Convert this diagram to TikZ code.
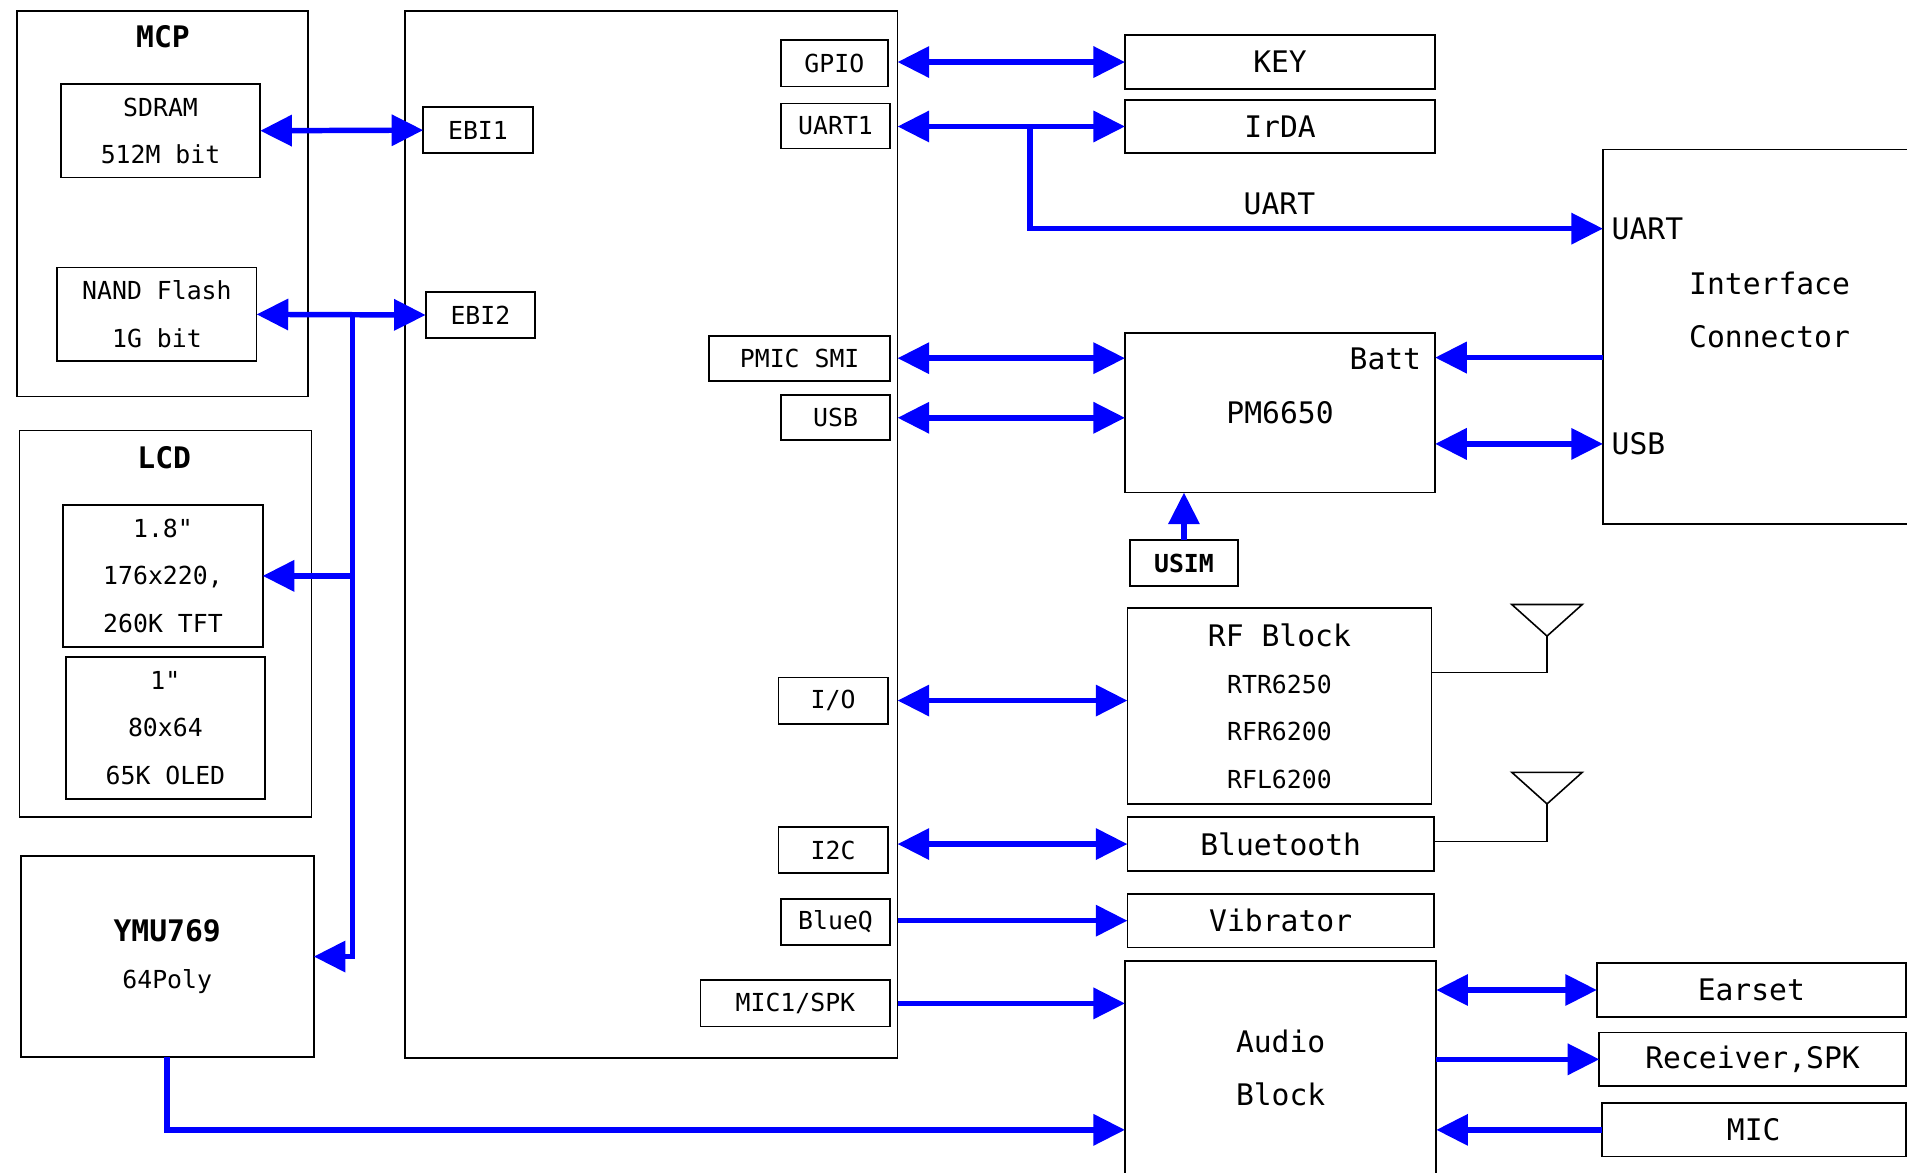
\documentclass[tikz,border=0pt]{standalone}
\usepackage{fontspec}
\setmonofont{DejaVu Sans Mono}
\renewcommand*{\familydefault}{\ttdefault}
\usetikzlibrary{arrows.meta}

\newcommand{\fsmall}{\fontsize{20.4pt}{39pt}\selectfont}
\newcommand{\fbig}{\fontsize{24.4pt}{44pt}\selectfont}

\tikzset{
  blk/.style={draw, line width=1.4pt, inner sep=0pt, outer sep=0pt, align=center, font=\fsmall},
  bigblk/.style={blk, font=\fbig},
  bus/.style={draw=blue, line width=4.5pt},
  sig/.style={bus, -{Triangle[length=26pt,width=25pt]}},
  bisig/.style={bus, {Triangle[length=26pt,width=25pt]}-{Triangle[length=26pt,width=25pt]}},
  ant/.style={line width=1.3pt}
}

\begin{document}
\begin{tikzpicture}[x=1pt, y=-1pt]
    \useasboundingbox (0,0) rectangle (1568,964);

    % Memory package
    \node[blk, minimum width=239pt, minimum height=317pt] (mcp) at (133.5,167.5) {};
    \node[font=\fbig\bfseries] (mcptitle) at (134,30) {MCP};
    \node[blk, minimum width=164pt, minimum height=77pt] (sdram) at (132,107.5) {SDRAM\\512M bit};
    \node[blk, minimum width=164pt, minimum height=77pt] (nand) at (129,258.5) {NAND Flash\\1G bit};

    % Displays
    \node[blk, minimum width=240pt, minimum height=318pt] (lcd) at (136,513) {};
    \node[font=\fbig\bfseries] (lcdtitle) at (135,376) {LCD};
    \node[blk, minimum width=164pt, minimum height=117pt] (tft) at (134,473.5) {1.8"\\176x220,\\260K TFT};
    \node[blk, minimum width=164pt, minimum height=117pt] (oled) at (136,598.5) {1"\\80x64\\65K OLED};

    % Sound chip
    \node[blk, minimum width=241pt, minimum height=165pt] (ymu) at (137.5,786.5) {{\fbig\bfseries YMU769}\\64Poly};

    % Baseband chip and its ports
    \node[blk, minimum width=405pt, minimum height=861pt] (msm) at (535.5,439.5) {};
    \node[blk, minimum width=90pt, minimum height=38pt] (ebi1) at (393,107) {EBI1};
    \node[blk, minimum width=90pt, minimum height=38pt] (ebi2) at (395,259) {EBI2};
    \node[blk, minimum width=88pt, minimum height=38pt] (gpio) at (686,52) {GPIO};
    \node[blk, minimum width=90pt, minimum height=37pt] (uart1) at (687,103.5) {UART1};
    \node[blk, minimum width=149pt, minimum height=37pt] (pmic) at (657.5,294.5) {PMIC SMI};
    \node[blk, minimum width=90pt, minimum height=37pt] (usb) at (687,343.5) {USB};
    \node[blk, minimum width=90pt, minimum height=38pt] (io) at (685,576) {I/O};
    \node[blk, minimum width=90pt, minimum height=38pt] (i2c) at (685,699) {I2C};
    \node[blk, minimum width=90pt, minimum height=38pt] (blueq) at (687,758) {BlueQ};
    \node[blk, minimum width=156pt, minimum height=38pt] (mic1) at (654,825) {MIC1/SPK};

    % Peripheral blocks
    \node[bigblk, minimum width=255pt, minimum height=44pt] (key) at (1052.5,51) {KEY};
    \node[bigblk, minimum width=255pt, minimum height=44pt] (irda) at (1052.5,104) {IrDA};
    \node[bigblk, minimum width=255pt, minimum height=131pt] (pm) at (1052.5,339.5) {PM6650};
    \node[anchor=east, font=\fbig] (batt) at (1172,295) {Batt};
    \node[blk, minimum width=89pt, minimum height=38pt, font=\fsmall\bfseries] (usim) at (973.5,463) {USIM};
    \node[blk, minimum width=250pt, minimum height=161pt] (rf) at (1052,580.5) {{\fbig RF Block}\\RTR6250\\RFR6200\\RFL6200};
    \node[bigblk, minimum width=252pt, minimum height=44pt] (bt) at (1053,694) {Bluetooth};
    \node[bigblk, minimum width=252pt, minimum height=44pt] (vib) at (1053,757) {Vibrator};
    \node[bigblk, minimum width=256pt, minimum height=176pt] (audio) at (1053,878) {Audio\\Block};
    \node[font=\fbig] (uartlbl) at (1052,168) {UART};

    % Interface connector
    \node[blk, minimum width=262pt, minimum height=308pt] (iface) at (1449,277) {};
    \node[font=\fbig, align=center] (iftext) at (1455,255) {Interface\\Connector};
    \coordinate (ifU) at (1318,188);
    \coordinate (ifB) at (1318,294);
    \coordinate (ifS) at (1318,365);
    \node[anchor=west, font=\fbig, inner sep=0pt] (ifuart) at ([xshift=7pt]ifU) {UART};
    \node[anchor=west, font=\fbig, inner sep=0pt] (ifusb) at ([xshift=7pt]ifS) {USB};

    % Audio outputs
    \node[bigblk, minimum width=254pt, minimum height=44pt] (earset) at (1440,814) {Earset};
    \node[bigblk, minimum width=252pt, minimum height=44pt] (recv) at (1441,871) {Receiver,SPK};
    \node[bigblk, minimum width=250pt, minimum height=44pt] (mic) at (1442,929) {MIC};

    % Antennas
    \coordinate (rfant) at (1272,523);
    \coordinate (rfjoin) at (1272,553);
    \draw[ant] (rfant) -- ++(-29,-26) -- ++(58,0) -- cycle;
    \draw[ant] (rfant) -- (rfjoin) -- (rf.east |- rfjoin);
    \coordinate (btant) at (1272,661);
    \coordinate (btjoin) at (1272,692);
    \draw[ant] (btant) -- ++(-29,-26) -- ++(58,0) -- cycle;
    \draw[ant] (btant) -- (btjoin) -- (bt.east |- btjoin);

    % Memory and display bus
    \coordinate (ebus) at (290,259);
    \draw[bisig] (sdram.east) -- (ebi1.west);
    \draw[bisig] (nand.east) -- (ebi2.west);
    \draw[sig] (ebus) |- (tft.east);
    \draw[sig] (ebus) |- (ymu.east);

    % Baseband to peripherals
    \draw[bisig] (msm.east |- key.west) -- (key.west);
    \draw[bisig] (msm.east |- irda.west) -- (irda.west);
    \coordinate (uartjoin) at (847,104);
    \draw[sig] (uartjoin) |- (ifU);
    \draw[bisig] (msm.east |- pmic.east) -- (pm.west |- pmic.east);
    \draw[bisig] (msm.east |- usb.east) -- (pm.west |- usb.east);
    \draw[bisig] (msm.east |- io.east) -- (rf.west |- io.east);
    \draw[bisig] (msm.east |- bt.west) -- (bt.west);
    \draw[sig] (msm.east |- vib.west) -- (vib.west);
    \draw[sig] (msm.east |- mic1.east) -- (audio.west |- mic1.east);
    \draw[sig] (ymu.south) |- (audio.west |- mic.west);

    % Power and interface lines
    \draw[sig] (ifB) -- (pm.east |- ifB);
    \draw[bisig] (pm.east |- ifS) -- (ifS);
    \draw[sig] (usim.north) -- (usim.north |- pm.south);

    % Audio lines
    \draw[bisig] (audio.east |- earset.west) -- (earset.west);
    \draw[sig] (audio.east |- recv.west) -- (recv.west);
    \draw[sig] (mic.west) -- (audio.east |- mic.west);

\end{tikzpicture}
\end{document}
